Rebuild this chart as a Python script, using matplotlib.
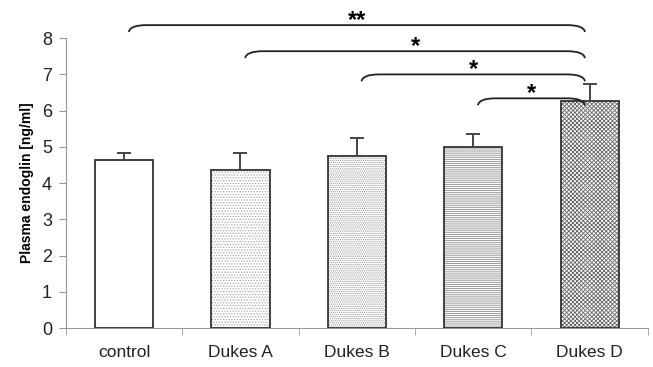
import numpy as np
import matplotlib
matplotlib.use("Agg")
import matplotlib.pyplot as plt
from matplotlib.path import Path
from matplotlib.patches import PathPatch

plt.rcParams['font.family'] = ['Liberation Sans', 'DejaVu Sans']
plt.rcParams['hatch.linewidth'] = 0.6

categories = ["control", "Dukes A", "Dukes B", "Dukes C", "Dukes D"]
means = [4.63, 4.36, 4.75, 5.00, 6.28]
sd_up = [0.19, 0.46, 0.50, 0.35, 0.45]
hatches = ["", "......", "........", "--------", "xxxxxxxx"]
hatch_colors = ["white", "#a8a8a8", "#9a9a9a", "#8a8a8a", "#666666"]

# significance brackets: (from, to, height, label)
brackets = [(0, 4, 8.36, "**"), (1, 4, 7.64, "*"), (2, 4, 7.00, "*"), (3, 4, 6.34, "*")]

fig = plt.figure(figsize=(6.53, 3.67), dpi=100)
ax = fig.add_axes([0.101, 0.106, 0.891, 0.790])
x = np.arange(len(categories))

for xi, m, h, hc in zip(x, means, hatches, hatch_colors):
    ax.bar(xi, m, width=0.5, color="white", edgecolor=hc, hatch=h or None, lw=0, zorder=2)
ax.bar(x, means, width=0.5, fill=False, edgecolor="#333333", lw=1.3, zorder=3)
ax.errorbar(x, means, yerr=[np.zeros(len(x)), sd_up], fmt="none", ecolor="#444444",
            elinewidth=1.4, capsize=5, capthick=1.4, zorder=4)

ax.set_xlim(-0.5, 4.5)
ax.set_ylim(0, 8)
ax.set_yticks(range(0, 9))
ax.set_xticks(x)
ax.set_xticklabels(categories, fontsize=12.5)
ax.set_xticks(np.arange(-0.5, 5.0, 1.0), minor=True)
ax.tick_params(axis="x", which="major", length=0, pad=12, colors="#222222")
ax.tick_params(axis="x", which="minor", length=5, color="#999999")
ax.tick_params(axis="y", length=5, color="#999999", labelsize=13, labelcolor="#222222", pad=5)
for s in ["top", "right"]:
    ax.spines[s].set_visible(False)
for s in ["left", "bottom"]:
    ax.spines[s].set_color("#999999")
ax.set_ylabel("Plasma endoglin [ng/ml]", fontsize=10, fontweight="bold", labelpad=6)

dx, dy = 0.15, 0.19
for a, b, yh, lab in brackets:
    x0, x1 = a + 0.04, b - 0.04
    verts = [(x0, yh - dy), (x0 + 0.01, yh), (x0 + dx, yh),
             (x1 - dx, yh), (x1 - 0.01, yh), (x1, yh - dy)]
    codes = [Path.MOVETO, Path.CURVE3, Path.CURVE3, Path.LINETO, Path.CURVE3, Path.CURVE3]
    ax.add_patch(PathPatch(Path(verts, codes), fill=False, lw=1.3, edgecolor="#222222",
                           clip_on=False, zorder=5))
    ax.text((x0 + x1) / 2, yh + 0.14, lab, ha="center", va="center",
            fontsize=17, fontweight="bold", clip_on=False)

fig.savefig("out.png", dpi=100)
